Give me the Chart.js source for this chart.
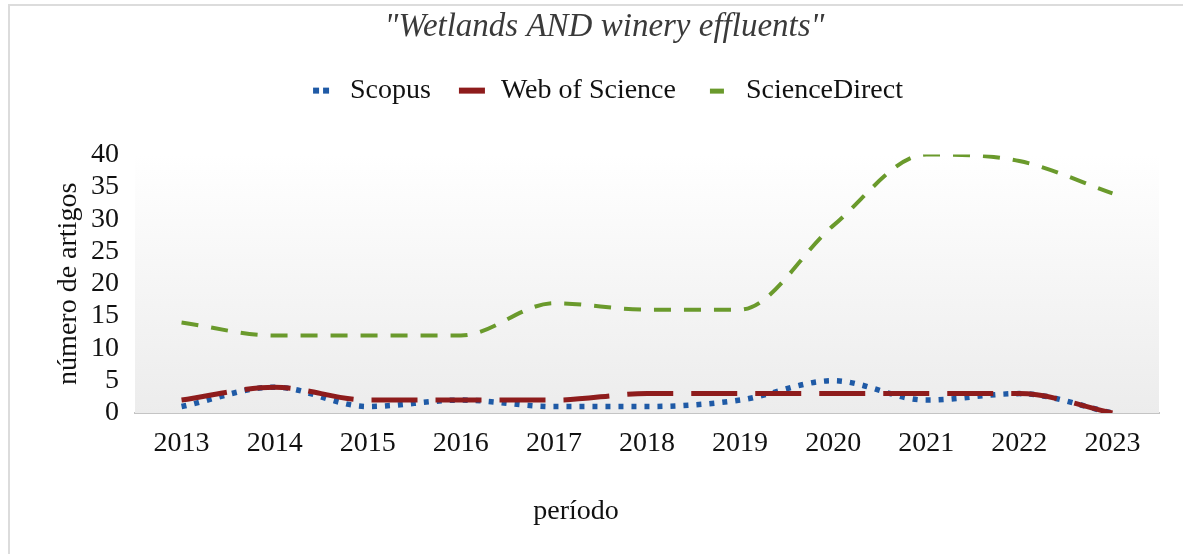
<!DOCTYPE html>
<html>
<head>
<meta charset="utf-8">
<script src="https://cdn.jsdelivr.net/npm/chart.js@4"></script>
<style>
  html, body { margin: 0; padding: 0; background: #fff; }
  #wrap { width: 1183px; height: 554px; position: relative; }
</style>
</head>
<body>
<div id="wrap"><canvas id="line_chart" width="1183" height="554"></canvas></div>
<script>
var years = ['2013', '2014', '2015', '2016', '2017', '2018', '2019', '2020', '2021', '2022', '2023'];
var scopus = [1, 4, 1, 2, 1, 1, 2, 5, 2, 3, 0];
var webOfScience = [2, 4, 2, 2, 2, 3, 3, 3, 3, 3, 0];
var scienceDirect = [14, 12, 12, 12, 17, 16, 16, 29, 40, 39, 34];
var xTitle = 'período';

var serif = "'Liberation Serif', 'Times New Roman', serif";

// little legend keys, like the ones Excel draws
function legendKey(color, kind) {
    var c = document.createElement('canvas');
    c.width = 30; c.height = 8;
    var g = c.getContext('2d');
    g.fillStyle = color;
    if (kind == 'dots') {
        g.fillRect(7, 1, 6, 6);
        g.fillRect(17, 1, 6, 6);
    } else if (kind == 'long') {
        g.fillRect(2, 1, 26, 6);
    } else {
        g.fillRect(8, 2, 14, 5);
    }
    return c;
}

var plotBackground = {
    id: 'plotBackground',
    beforeInit: function(chart) {
        // more room under the legend
        var fit = chart.legend.fit;
        chart.legend.fit = function() {
            fit.bind(chart.legend)();
            this.height += 40;
        };
    },
    beforeDatasetsDraw: function(chart) {
        var a = chart.chartArea, ctx = chart.ctx;
        var grad = ctx.createLinearGradient(0, a.top, 0, a.bottom);
        grad.addColorStop(0, '#ffffff');
        grad.addColorStop(1, '#ececec');
        ctx.save();
        ctx.fillStyle = grad;
        ctx.fillRect(a.left, a.top, a.right - a.left, a.bottom - a.top);
        ctx.restore();
    },
    afterDraw: function(chart) {
        var ctx = chart.ctx;
        ctx.save();
        ctx.strokeStyle = '#dcdcdc';
        ctx.lineWidth = 2;
        ctx.beginPath();
        ctx.moveTo(9, 554);
        ctx.lineTo(9, 5);
        ctx.lineTo(1183, 5);
        ctx.stroke();
        // x axis title sits left of centre in the original
        ctx.fillStyle = '#111';
        ctx.font = '28px ' + serif;
        ctx.textAlign = 'center';
        ctx.textBaseline = 'middle';
        ctx.fillText(xTitle, 576, 512);
        ctx.restore();
    }
};

var ctx = document.getElementById('line_chart').getContext('2d');
var myChart = new Chart(ctx, {
    type: 'line',
    data: {
        labels: years,
        datasets: [
            {
                label: 'Scopus',
                data: scopus,
                borderColor: '#1f5aa6',
                borderWidth: 5.5,
                borderDash: [5, 8],
                pointStyle: legendKey('#1f5aa6', 'dots'),
                order: 3
            },
            {
                label: 'Web of Science',
                data: webOfScience,
                borderColor: '#8e1c1c',
                borderWidth: 5,
                borderDash: [46, 18],
                pointStyle: legendKey('#8e1c1c', 'long'),
                order: 2
            },
            {
                label: 'ScienceDirect',
                data: scienceDirect,
                borderColor: '#6a9a2c',
                borderWidth: 4,
                borderDash: [17, 13],
                pointStyle: legendKey('#6a9a2c', 'short'),
                order: 1
            }
        ]
    },
    options: {
        responsive: false,
        animation: false,
        elements: {
            point: { radius: 0, hoverRadius: 0 },
            line: { cubicInterpolationMode: 'monotone', fill: false }
        },
        layout: { padding: { left: 50, right: 24, top: 4, bottom: 0 } },
        plugins: {
            title: {
                display: true,
                text: '"Wetlands AND winery effluents"',
                color: '#3a3a3a',
                font: { family: serif, size: 33, style: 'italic', weight: 'normal' },
                padding: { top: 4, bottom: 3 }
            },
            legend: {
                display: true,
                labels: {
                    usePointStyle: true,
                    pointStyleWidth: 30,
                    color: '#111',
                    padding: 26,
                    font: { family: serif, size: 28 },
                    sort: function(a, b) { return a.datasetIndex - b.datasetIndex; }
                }
            },
            tooltip: { enabled: false }
        },
        scales: {
            x: {
                offset: true,
                grid: { display: false, offset: true },
                border: { display: true, color: '#c4c4c4', width: 2 },
                ticks: { color: '#111', padding: 6, font: { family: serif, size: 28 } },
                afterFit: function(scale) { scale.height = 141; }
            },
            y: {
                min: 0,
                max: 40,
                grid: { display: false },
                border: { display: false },
                ticks: { stepSize: 5, autoSkip: false, color: '#111', padding: 8, font: { family: serif, size: 28 } },
                title: {
                    display: true,
                    text: 'número de artigos',
                    color: '#111',
                    font: { family: serif, size: 28 },
                    padding: 2
                },
                afterFit: function(scale) { scale.width = 85; }
            }
        }
    },
    plugins: [plotBackground]
});
</script>
</body>
</html>
